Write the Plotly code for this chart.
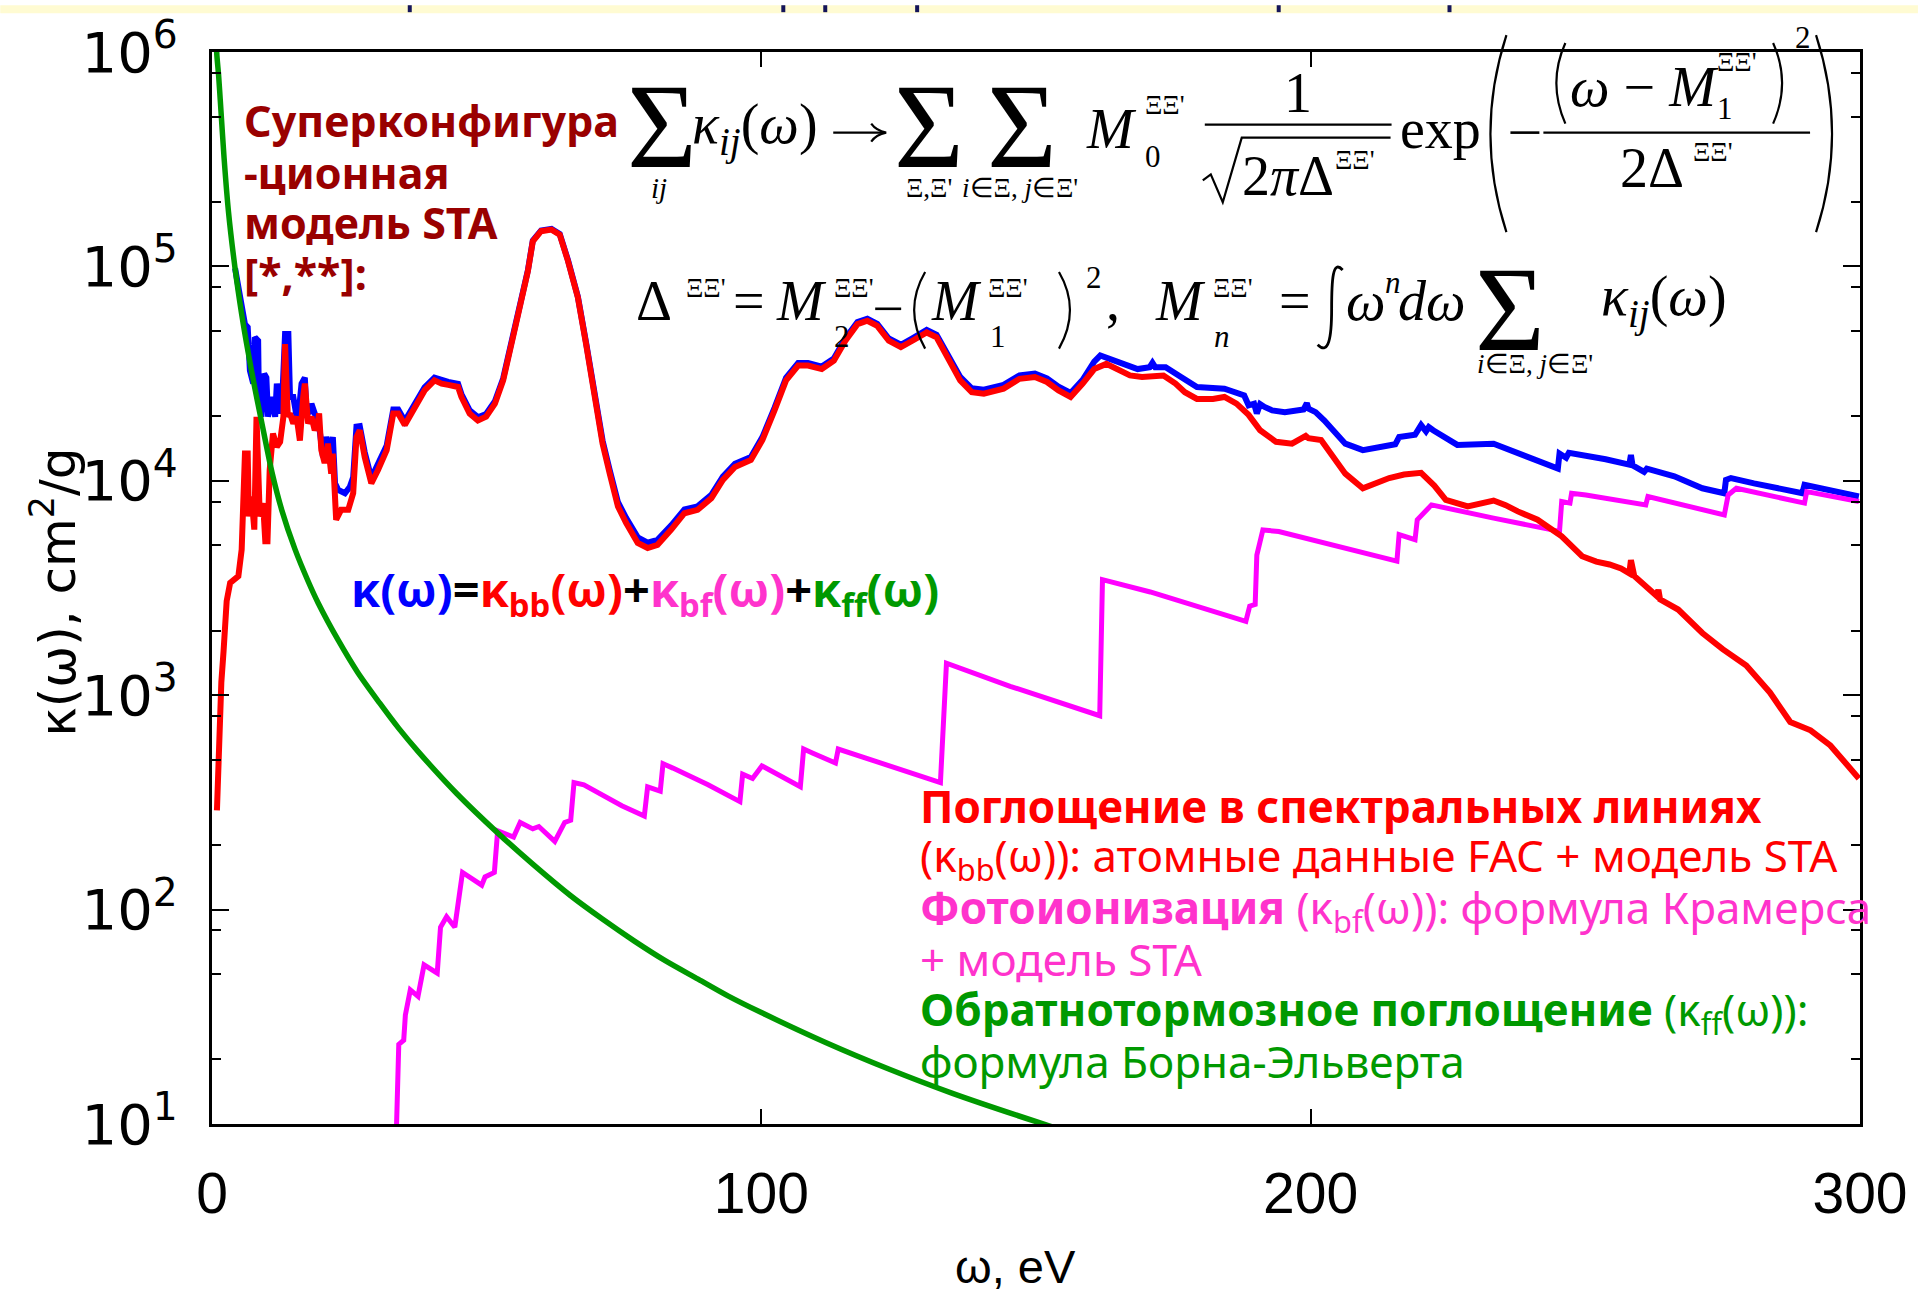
import plotly.graph_objects as go

# ---------------- data: photon energy (eV) and opacity (cm^2/g) ----------------
# bound-bound absorption (spectral lines)
bb_omega = [0.9, 1.3, 1.7, 2.1, 2.67, 3.3, 4.2, 4.8, 5.4, 6.0, 6.5, 6.7, 7.2, 7.7, 8.1, 8.7, 9.3, 9.7,
            10.1, 10.5, 11.1, 11.8, 12.4, 13.0, 13.3, 13.8, 14.2, 14.8, 15.4, 16.0, 16.6, 16.9, 17.5,
            18.1, 18.7, 19.2, 19.5, 19.9, 20.5, 21.1, 21.7, 22.0, 22.6, 23.5, 24.8, 25.7, 26.3, 26.9,
            27.8, 29.0, 30.2, 31.8, 33.0, 33.9, 35.1, 36.9, 38.7, 40.5, 41.8, 43.0, 44.8, 45.4, 46.9,
            48.4, 49.9, 51.5, 53.0, 54.5, 56.0, 57.5, 58.4, 59.9, 61.8, 63.3, 64.8, 66.6, 68.1, 69.6,
            71.1, 72.4, 73.9, 75.4, 76.6, 77.5, 79.3, 81.1, 83.6, 86.0, 88.4, 90.9, 93.0, 95.2, 98.1,
            100.2, 102.4, 104.5, 106.7, 108.5, 111.0, 113.2, 115.3, 117.5, 119.3, 121.1, 123.2, 125.4,
            127.5, 130.1, 131.9, 134.0, 136.2, 138.3, 140.5, 144.1, 147.0, 149.8, 152.0, 154.1, 156.3,
            158.5, 160.6, 162.8, 164.9, 167.1, 169.3, 171.4, 173.2, 175.4, 177.1, 179.3, 182.2, 184.3,
            186.5, 188.7, 190.8, 193.7, 196.6, 199.1, 199.6, 201.9, 204.0, 206.3, 209.5, 212.0, 214.3,
            217.0, 220.1, 222.5, 224.6, 228.6, 231.0, 233.3, 235.5, 237.7, 241.3, 245.7, 249.4, 252.0,
            254.4, 256.5, 258.0, 258.3, 258.9, 261.0, 263.0, 263.3, 263.6, 266.9, 271.3, 275.0, 279.3,
            283.6, 287.3, 291.0, 294.6, 299.8]
bb_kappa = [290, 700, 1150, 1600, 2750, 3340, 3470, 3590, 4770, 13400, 13400, 6820, 8450, 5920, 19900,
            6820, 7870, 5220, 5220, 11200, 16600, 14400, 15200, 19900, 43400, 19900, 20600, 18500,
            19900, 15400, 24600, 28400, 18500, 19900, 17200, 18500, 20600, 13900, 12100, 14900, 10800,
            13400, 6580, 7320, 7320, 8750, 16000, 17200, 12900, 9730, 11200, 13900, 20600, 20600, 18200,
            22100, 26400, 29400, 28400, 28000, 27400, 24600, 20600, 19100, 19900, 22900, 29400, 43400,
            62100, 95000, 131000, 146000, 148500, 140700, 106000, 71600, 43400, 26400, 14900, 10800,
            7590, 6350, 5710, 5130, 4860, 5030, 5920, 7060, 7320, 8300, 10100, 11600, 12500, 15500,
            21300, 29400, 34500, 34500, 33200, 36300, 45000, 53800, 55800, 52800, 45000, 42000, 45000,
            49200, 46700, 37700, 29400, 25900, 25500, 26900, 29900, 30500, 28900, 26400, 24600, 28400,
            33200, 35100, 33200, 31000, 30500, 31000, 31000, 28400, 25900, 24100, 24100, 24600, 22900,
            20300, 17200, 15200, 14900, 16200, 15800, 15500, 13000, 10800, 9230, 9800, 10300, 10700,
            10900, 9500, 8150, 7590, 7900, 8090, 7700, 7200, 6580, 5510, 4450, 4200, 4070, 3900, 3700,
            4270, 3600, 3200, 2900, 3100, 2800, 2510, 1950, 1640, 1377, 1030, 750, 686, 583, 409]

# total opacity
tot_omega = [4.2, 5.1, 6.0, 6.5, 6.9, 7.5, 7.8, 8.4, 8.5, 9.0, 9.5, 9.9, 10.2, 10.9, 11.5, 11.8, 12.4,
             12.8, 13.3, 13.9, 14.2, 14.8, 15.4, 16.0, 16.3, 16.9, 17.2, 17.8, 18.1, 18.7, 19.6, 20.2,
             20.8, 21.5, 22.0, 22.4, 23.0, 24.2, 25.1, 25.7, 26.3, 26.9, 27.8, 29.0, 30.2, 31.8, 33.0,
             33.9, 35.1, 36.9, 38.7, 40.5, 41.8, 43.0, 44.8, 45.4, 46.9, 48.4, 49.9, 51.5, 53.0, 54.5,
             56.0, 57.5, 58.4, 59.9, 61.8, 63.3, 64.8, 66.6, 68.1, 69.6, 71.1, 72.4, 73.9, 75.4, 76.6,
             77.5, 79.3, 81.1, 83.6, 86.0, 88.4, 90.9, 93.0, 95.2, 98.1, 100.2, 102.4, 104.5, 106.7,
             108.5, 111.0, 113.2, 115.3, 117.5, 119.3, 121.1, 123.2, 125.4, 127.5, 130.1, 131.9, 134.0,
             136.2, 138.3, 140.5, 144.1, 147.0, 149.8, 152.0, 154.1, 156.3, 158.5, 160.6, 161.7, 163.5,
             166.4, 168.5, 170.7, 171.2, 171.7, 173.6, 176.4, 179.3, 184.3, 187.9, 188.7, 189.7, 190.2,
             190.8, 191.6, 193.0, 195.3, 198.7, 199.3, 199.6, 200.9, 202.5, 206.3, 209.5, 215.4, 216.1,
             219.0, 220.1, 221.0, 221.5, 222.3, 226.7, 233.3, 239.8, 245.0, 245.3, 246.5, 247.0, 249.4,
             253.7, 258.0, 258.3, 258.6, 260.7, 261.2, 266.2, 271.3, 275.3, 275.6, 276.5, 280.7, 289.5,
             289.9, 299.8]
tot_kappa = [98000, 69000, 53700, 52000, 32700, 28400, 46700, 45000, 28400, 19900, 31600, 30300, 19900,
             24600, 19900, 28400, 20600, 24600, 48400, 48400, 24600, 24600, 19900, 23700, 28400, 30300,
             21300, 20600, 22900, 20600, 17200, 12900, 16000, 13900, 16000, 9730, 9060, 8750, 9380,
             10400, 17900, 18000, 13600, 10300, 11800, 14600, 21500, 21500, 19000, 23000, 27300, 30300,
             29300, 28900, 28300, 25400, 21300, 19800, 20500, 23500, 30000, 44000, 62800, 95800, 132000,
             147000, 149500, 141500, 107000, 72300, 44000, 27000, 15400, 11200, 7950, 6700, 6050, 5450,
             5150, 5300, 6200, 7350, 7600, 8600, 10450, 12000, 12900, 16000, 21900, 30200, 35400, 35400,
             34100, 37200, 46100, 55000, 57000, 54000, 46100, 43100, 46200, 50500, 48000, 38900, 30500,
             27000, 26600, 28000, 31000, 31600, 30000, 27500, 25700, 29600, 36000, 38400, 37000, 34500,
             33200, 33900, 35500, 33900, 33900, 30500, 27400, 26900, 25000, 22500, 22900, 20600, 22800,
             22100, 21300, 20900, 21500, 23000, 21700, 20900, 19100, 14900, 13900, 14800, 16000, 16400,
             18200, 17000, 17800, 17200, 14700, 14900, 12900, 11400, 13400, 12800, 13500, 13200, 12600,
             11900, 13200, 11800, 11000, 11400, 10500, 9230, 8750, 10100, 10300, 9730, 8750, 9570, 8450]

# bound-free absorption (photoionization)
bf_omega = [33.4, 33.6, 34.0, 34.9, 35.2, 36.1, 37.5, 38.6, 41.0, 41.6, 42.7, 44.2, 45.0, 45.6, 49.1,
            49.7, 51.4, 52.0, 54.9, 56.1, 58.4, 59.5, 62.4, 64.2, 65.3, 65.9, 67.7, 71.1, 74.6, 78.7,
            79.3, 81.6, 82.1, 83.9, 90.3, 96.1, 96.6, 98.4, 100.1, 107.1, 107.7, 109.4, 113.5, 114.0,
            115.2, 119.8, 126.8, 132.6, 133.7, 145.3, 161.6, 162.1, 170.8, 188.2, 188.9, 189.9, 190.2,
            191.3, 194.2, 215.7, 216.1, 219.0, 219.4, 220.5, 222.0, 233.3, 245.3, 245.7, 247.2, 247.5,
            250.1, 261.0, 261.4, 275.3, 276.0, 277.5, 289.9, 290.3, 299.8]
bf_kappa = [8, 10, 23.5, 24.6, 32.2, 42.2, 39.4, 55.2, 50.5, 82.8, 92.7, 82.8, 116, 149, 130, 142, 149,
            233, 218, 255, 238, 244, 208, 255, 261, 391, 382, 342, 305, 273, 374, 357, 479, 457, 382,
            319, 428, 409, 468, 374, 561, 536, 483, 561, 548, 501, 438, 391, 1410, 1100, 802, 3460,
            3030, 2210, 2600, 2650, 4500, 5900, 5800, 4220, 5610, 5310, 6580, 7060, 7720, 6700, 5810,
            8010, 7870, 8750, 8590, 7720, 8450, 6930, 8590, 9230, 7870, 8910, 8010]

# free-free absorption (inverse bremsstrahlung)
ff_omega = [0.6, 0.85, 1.2, 1.5, 2.2, 3.0, 4.2, 5.4, 6.6, 7.8, 9.0, 10.9, 12.7, 15.1, 17.5, 19.3, 23.0,
            26.5, 30.5, 34.0, 37.5, 44.5, 52.0, 58.5, 65.3, 71.0, 76.9, 82.5, 88.5, 94.0, 100.1, 111.7,
            123.3, 134.8, 151.7, 160.0]
ff_kappa = [1.9e6, 1.0e6, 7.8e5, 6.0e5, 3.2e5, 1.8e5, 9.8e4, 6.0e4, 3.95e4, 2.7e4, 1.9e4, 1.1e4, 7.3e3,
            4.8e3, 3.4e3, 2.7e3, 1.8e3, 1.28e3, 920, 700, 547, 349, 228, 162, 116, 90.6, 71.3, 57.8, 47.4,
            39.5, 33.0, 24.0, 18.0, 13.9, 9.93, 8.5]

x_tick_vals = [0, 100, 200, 300]
x_tick_text = ["0", "100", "200", "300"]
y_tick_vals = [1e1, 1e2, 1e3, 1e4, 1e5, 1e6]
y_tick_text = ["10<sup>1</sup>", "10<sup>2</sup>", "10<sup>3</sup>",
               "10<sup>4</sup>", "10<sup>5</sup>", "10<sup>6</sup>"]
y_minor_vals = [m * 10 ** k for k in range(1, 6) for m in (2, 5, 8)]

# ---------------- geometry helpers (pixel -> paper) ----------------
W, H = 1920, 1295
L, R, T, B = 212, 1862, 47, 1124


def px(x):
    return (x - L) / (R - L)


def py(y):
    return (B - y) / (B - T)


SERIF = "Liberation Serif"
SANS = "Noto Sans"
BLUE, RED, MAG, GREEN = "#0000ff", "#ff0000", "#ff00ff", "#009900"
MAG_TXT, DARKRED = "#ff33cc", "#990000"

annotations = []
shapes = []


def label(text, x, y, size, color="black", family=SERIF, xanchor="left", yanchor="middle", angle=0):
    annotations.append(dict(text=text, x=px(x), y=py(y), xref="paper", yref="paper", showarrow=False,
                            xanchor=xanchor, yanchor=yanchor, textangle=angle, borderpad=0,
                            font=dict(size=size, color=color, family=family)))


def hline(x0, x1, y, width=2.2, color="black"):
    shapes.append(dict(type="line", xref="paper", yref="paper", x0=px(x0), x1=px(x1), y0=py(y), y1=py(y),
                       line=dict(color=color, width=width)))


def svg_path(*parts, width=2.2, color="black"):
    out = []
    for p in parts:
        out.append(p if isinstance(p, str) else f"{px(p[0]):.5f},{py(p[1]):.5f}")
    shapes.append(dict(type="path", xref="paper", yref="paper", path=" ".join(out),
                       line=dict(color=color, width=width)))


# ---------------- figure ----------------
fig = go.Figure()
fig.add_trace(go.Scatter(x=tot_omega, y=tot_kappa, mode="lines", line=dict(color=BLUE, width=6),
                         hoverinfo="skip", showlegend=False))
fig.add_trace(go.Scatter(x=bf_omega, y=bf_kappa, mode="lines", line=dict(color=MAG, width=5),
                         hoverinfo="skip", showlegend=False))
fig.add_trace(go.Scatter(x=bb_omega, y=bb_kappa, mode="lines", line=dict(color=RED, width=6),
                         hoverinfo="skip", showlegend=False))
fig.add_trace(go.Scatter(x=ff_omega, y=ff_kappa, mode="lines",
                         line=dict(color=GREEN, width=5.5, shape="spline", smoothing=0.8),
                         hoverinfo="skip", showlegend=False))

# strip at the very top of the page
shapes.append(dict(type="rect", xref="paper", yref="paper", x0=px(0), x1=px(W), y0=py(0), y1=py(8),
                   fillcolor="#fffbd2", line=dict(width=0), layer="below"))
for fx in (410, 784, 826, 918, 1280, 1451):
    shapes.append(dict(type="rect", xref="paper", yref="paper", x0=px(fx - 2), x1=px(fx + 2), y0=py(0),
                       y1=py(7), fillcolor="#14145a", line=dict(width=0)))

# --- superconfiguration caption ---
for txt, yb in (("Суперконфигура", 133), ("-ционная", 185), ("модель STA", 235), ("[*,**]:", 287)):
    label(f"<b>{txt}</b>", 243, yb - 17, 43, DARKRED, SANS)

# --- formula 1 ---
M = 56       # main math size
S = 27       # primes/indices
BIG = 120    # summation sign
label("Σ", 663, 122, BIG, xanchor="center")
label("<i>ij</i>", 660, 184, 29, xanchor="center")
label("<i>κ</i><sub><i>ij</i></sub>(<i>ω</i>)", 692, 124, M)
# arrow
hline(834, 884, 128, 2.4)
svg_path("M", (872, 119), "Q", (877, 126), (887, 128), "Q", (877, 130), (872, 137), width=2.2)
label("Σ", 930, 122, BIG, xanchor="center")
label("Σ", 1023, 122, BIG, xanchor="center")
label("Ξ,Ξ'", 930, 184, S, xanchor="center")
label("<i>i</i>∈Ξ, <i>j</i>∈Ξ'", 1021, 184, S, xanchor="center")
label("<i>M</i>", 1086, 124, M)
label("ΞΞ'", 1145, 100, S)
label("0", 1145, 152, 31)
label("1", 1299, 88, M, xanchor="center")
hline(1206, 1393, 120)
svg_path("M", (1204, 176), "L", (1212, 170), "L", (1224, 198), "L", (1243, 133), "L", (1392, 133))
label("2<i>π</i>Δ", 1242, 172, M)
label("ΞΞ'", 1335, 156, S)
label("exp", 1400, 124, M)
svg_path("M", (1508, 30), "Q", (1476, 129), (1508, 228))
svg_path("M", (1818, 30), "Q", (1850, 129), (1818, 228))
hline(1512, 1541, 128, 2.6)
hline(1545, 1812, 128)
svg_path("M", (1567, 38), "Q", (1549, 78), (1567, 119))
svg_path("M", (1775, 38), "Q", (1793, 78), (1775, 119))
label("<i>ω</i> − <i>M</i>", 1571, 82, M)
label("ΞΞ'", 1718, 57, S)
label("1", 1718, 104, 31)
label("2", 1796, 32, 31)
label("2Δ", 1621, 164, M)
label("ΞΞ'", 1694, 147, S)

# --- formula 2 ---
label("Δ", 636, 297, M)
label("ΞΞ'", 686, 284, S)
label("=", 750, 297, M, xanchor="center")
label("<i>M</i>", 776, 297, M)
label("ΞΞ'", 834, 284, S)
label("2", 834, 333, 31)
hline(876, 902, 305, 2.6)
svg_path("M", (926, 268), "Q", (904, 306), (926, 345))
svg_path("M", (1060, 268), "Q", (1082, 306), (1060, 345))
label("<i>M</i>", 931, 297, M)
label("ΞΞ'", 988, 284, S)
label("1", 990, 333, 31)
label("2", 1086, 274, 31)
label(",", 1106, 297, M)
label("<i>M</i>", 1155, 297, M)
label("ΞΞ'", 1213, 284, S)
label("<i>n</i>", 1214, 333, 31)
label("=", 1296, 297, M, xanchor="center")
svg_path("M", (1344, 266), "C", (1334, 255), (1333, 276), (1333, 305), "C", (1333, 334), (1330, 352),
         (1319, 341), width=2.8)
label("<i>ω</i>", 1346, 297, M)
label("<i>n</i>", 1385, 279, 31)
label("<i>dω</i>", 1398, 297, M)
label("Σ", 1512, 306, BIG, xanchor="center")
label("<i>i</i>∈Ξ, <i>j</i>∈Ξ'", 1537, 360, S, xanchor="center")
label("<i>κ</i><sub><i>ij</i></sub>(<i>ω</i>)", 1602, 297, M)

# --- sum of contributions ---
label('<b><span style="color:#0000ff">κ(ω)</span>=<span style="color:#ff0000">κ<sub>bb</sub>(ω)</span>'
      '+<span style="color:#ff33cc">κ<sub>bf</sub>(ω)</span>+<span style="color:#009900">κ<sub>ff</sub>(ω)</span></b>',
      350, 590, 47, "black", SANS)

# --- description of the components ---
FS = 44
desc = [
    ("<b>Поглощение в спектральных линиях</b>", RED, 822),
    ("(κ<sub>bb</sub>(ω)): атомные данные FAC + модель STA", RED, 873),
    ("<b>Фотоионизация</b> (κ<sub>bf</sub>(ω)): формула Крамерса", MAG_TXT, 925),
    ("+ модель STA", MAG_TXT, 975),
    ("<b>Обратнотормозное поглощение</b> (κ<sub>ff</sub>(ω)):", GREEN, 1028),
    ("формула Борна-Эльверта", GREEN, 1078),
]
for txt, col, yb in desc:
    label(txt, 920, yb - 17, FS, col, SANS)

# --- axis titles ---
label("κ(ω), cm<sup>2</sup>/g", 54, 590, 50, "black", "DejaVu Sans", xanchor="center", angle=-90)
label("ω, eV", 1016, 1267, 47, "black", "Liberation Sans", xanchor="center")

fig.update_layout(
    width=W, height=H,
    margin=dict(l=L, r=W - R, t=T, b=H - B),
    paper_bgcolor="white", plot_bgcolor="white",
    annotations=annotations, shapes=shapes,
    xaxis=dict(range=[0, 300], tickvals=x_tick_vals, ticktext=x_tick_text, ticks="inside", ticklen=15,
               tickwidth=2, tickcolor="black", showline=True, linewidth=3, linecolor="black",
               mirror="ticks", showgrid=False, zeroline=False, ticklabelstandoff=18,
               tickfont=dict(family="Liberation Sans", size=57, color="black")),
    yaxis=dict(type="log", range=[1, 6], tickvals=y_tick_vals, ticktext=y_tick_text, ticks="inside",
               ticklen=17, tickwidth=2, tickcolor="black", showline=True, linewidth=3, linecolor="black",
               mirror="ticks", showgrid=False, zeroline=False, ticklabelstandoff=20,
               tickfont=dict(family="DejaVu Sans", size=56, color="black"),
               minor=dict(tickvals=y_minor_vals, ticks="inside", ticklen=9, tickwidth=2, tickcolor="black",
                          showgrid=False)),
)

fig.write_html("out.html", config={"displayModeBar": False})
